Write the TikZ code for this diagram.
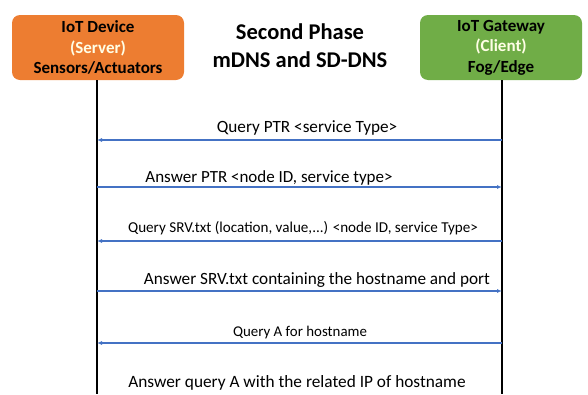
\documentclass[tikz,border=0pt]{standalone}
\usepackage{fontspec}
\setmainfont{Carlito}
\usetikzlibrary{arrows.meta}
\definecolor{devorange}{HTML}{ED7D31}
\definecolor{gwgreen}{HTML}{70AD47}
\definecolor{msgblue}{HTML}{4472C4}
\begin{document}
\begin{tikzpicture}[x=1pt,y=-1pt,
  actor/.style={rounded corners=8pt,minimum height=65pt,align=center,font=\fontsize{17}{20.5}\selectfont\bfseries,inner sep=0pt},
  life/.style={line width=2pt,black},
  msg/.style={msgblue,line width=1.3pt,-{Latex[length=5pt,width=4pt]}},
  lbl/.style={inner sep=0pt,anchor=base}]
\useasboundingbox (0,0) rectangle (588,394);
\node[actor,fill=devorange,minimum width=172pt] (dev) at (98,47.5) {IoT Device\\\textcolor{white!90!yellow}{(Server)}\\Sensors/Actuators};
\node[actor,fill=gwgreen,minimum width=162pt] (gw) at (501,47.5) {IoT Gateway\\\textcolor{white!90!yellow}{(Client)}\\Fog/Edge};
\node[align=center,font=\fontsize{22.5}{28}\selectfont\bfseries,inner sep=0pt] (title) at (300,46) {Second Phase\\mDNS and SD-DNS};
\coordinate (devend) at (97,394);
\coordinate (gwend) at (502,394);
\draw[life] (dev.south -| devend) -- (devend);
\draw[life] (gw.south -| gwend) -- (gwend);
% message anchor points on lifelines
\foreach \n/\y in {1/140,2/187,3/241,4/291,5/343}{
  \coordinate (d\n) at (97,\y);
  \coordinate (g\n) at (502,\y);
}
\draw[msg] (g1) -- (d1);
\draw[msg] (d2) -- (g2);
\draw[msg] (g3) -- (d3);
\draw[msg] (d4) -- (g4);
\draw[msg] (g5) -- (d5);
\node[lbl,font=\fontsize{17.2}{19}\selectfont] (l1) at (307,132) {Query PTR <service Type>};
\node[lbl,font=\fontsize{17}{19}\selectfont] (l2) at (269,182) {Answer PTR <node ID, service type>};
\node[lbl,font=\fontsize{15.1}{17}\selectfont] (l3) at (303,232) {Query SRV.txt (location, value,...) <node ID, service Type>};
\node[lbl,font=\fontsize{17.2}{19}\selectfont] (l4) at (317,284) {Answer SRV.txt containing the hostname and port};
\node[lbl,font=\fontsize{14.9}{17}\selectfont] (l5) at (300,336) {Query A for hostname};
\node[lbl,font=\fontsize{17.3}{19}\selectfont] (l6) at (297,387) {Answer query A with the related IP of hostname};
\end{tikzpicture}
\end{document}
